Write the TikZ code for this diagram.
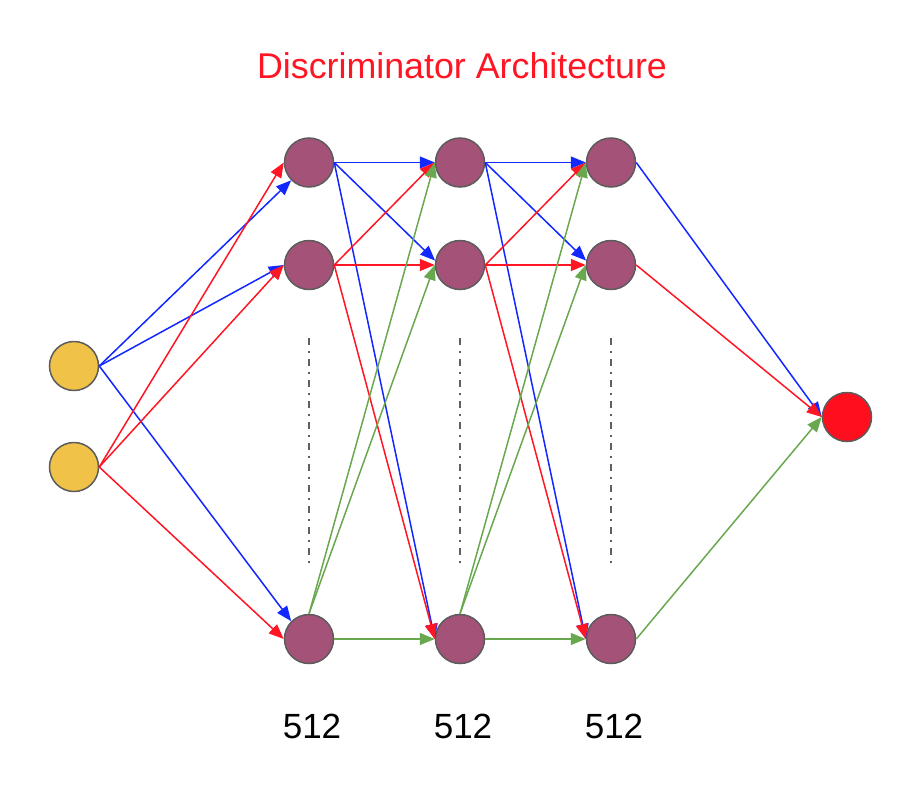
\documentclass[tikz,border=0pt]{standalone}
\usepackage{fontspec}
\setmainfont{Liberation Sans}
\usetikzlibrary{arrows.meta}
\definecolor{eblue}{RGB}{18,40,255}
\definecolor{ered}{RGB}{255,22,36}
\definecolor{egreen}{RGB}{106,168,79}
\definecolor{nyellow}{RGB}{241,194,72}
\definecolor{npurple}{RGB}{165,82,120}
\definecolor{nred}{RGB}{255,15,30}
\definecolor{nstroke}{RGB}{92,92,92}
\definecolor{dashgray}{RGB}{96,96,96}
\tikzset{
  neuron/.style={circle,draw=nstroke,line width=1.5pt,minimum size=49pt,inner sep=0pt},
  innode/.style={neuron,fill=nyellow},
  hidnode/.style={neuron,fill=npurple},
  outnode/.style={neuron,fill=nred},
  conn/.style={line width=1.5pt,-{Triangle[length=15pt,width=12pt]}},
  cblue/.style={conn,draw=eblue,fill=eblue},
  cred/.style={conn,draw=ered,fill=ered},
  cgreen/.style={conn,draw=egreen,fill=egreen},
  dotline/.style={draw=dashgray,line width=2.2pt,dash pattern=on 7pt off 5.5pt on 2pt off 6.5pt},
  lbl/.style={font=\fontsize{35}{40}\selectfont,anchor=base}
}
\begin{document}
\begin{tikzpicture}[x=1pt,y=-1pt]
\useasboundingbox (0,0) rectangle (920,798);
\node[lbl,text=ered,font=\fontsize{35.8}{40}\selectfont] (title) at (462,78.5) {Discriminator Architecture};
% input
\node[innode] (i1) at (74,366) {};
\node[innode] (i2) at (74,467) {};
% layers
\foreach \n/\x in {1/309,2/460,3/611}{
  \node[hidnode] (l\n a) at (\x,162.5) {};
  \node[hidnode] (l\n b) at (\x,265) {};
  \node[hidnode] (l\n c) at (\x,639) {};
  \coordinate (d\n t) at (\x,338);
  \coordinate (d\n b) at (\x,568);
  \draw[dotline] (d\n t) -- (d\n b);
  \node[lbl] (n\n) at (\x+3,738.5) {512};
}
\node[outnode] (o) at (847,417) {};
% input edges
\draw[cblue] (i1.east) -- (l1a.225);
\draw[cblue] (i1.east) -- (l1b.west);
\draw[cblue] (i1.east) -- (l1c.135);
\draw[cred] (i2.east) -- (l1a.west);
\draw[cred] (i2.east) -- (l1b.west);
\draw[cred] (i2.east) -- (l1c.west);
% hidden edges
\foreach \p/\q in {1/2,2/3}{
  \draw[cblue] (l\p a.east) -- (l\q a.west);
  \draw[cblue] (l\p a.east) -- (l\q b.170);
  \draw[cblue] (l\p a.east) -- (l\q c.west);
  \draw[cred] (l\p b.east) -- (l\q a.west);
  \draw[cred] (l\p b.east) -- (l\q b.west);
  \draw[cred] (l\p b.east) -- (l\q c.west);
  \draw[cgreen] (l\p c.north) -- (l\q a.west);
  \draw[cgreen] (l\p c.north) -- (l\q b.west);
  \draw[cgreen] (l\p c.east) -- (l\q c.west);
}
% output edges
\draw[cblue] (l3a.east) -- (o.west);
\draw[cred] (l3b.east) -- (o.west);
\draw[cgreen] (l3c.east) -- (o.west);
\end{tikzpicture}
\end{document}
